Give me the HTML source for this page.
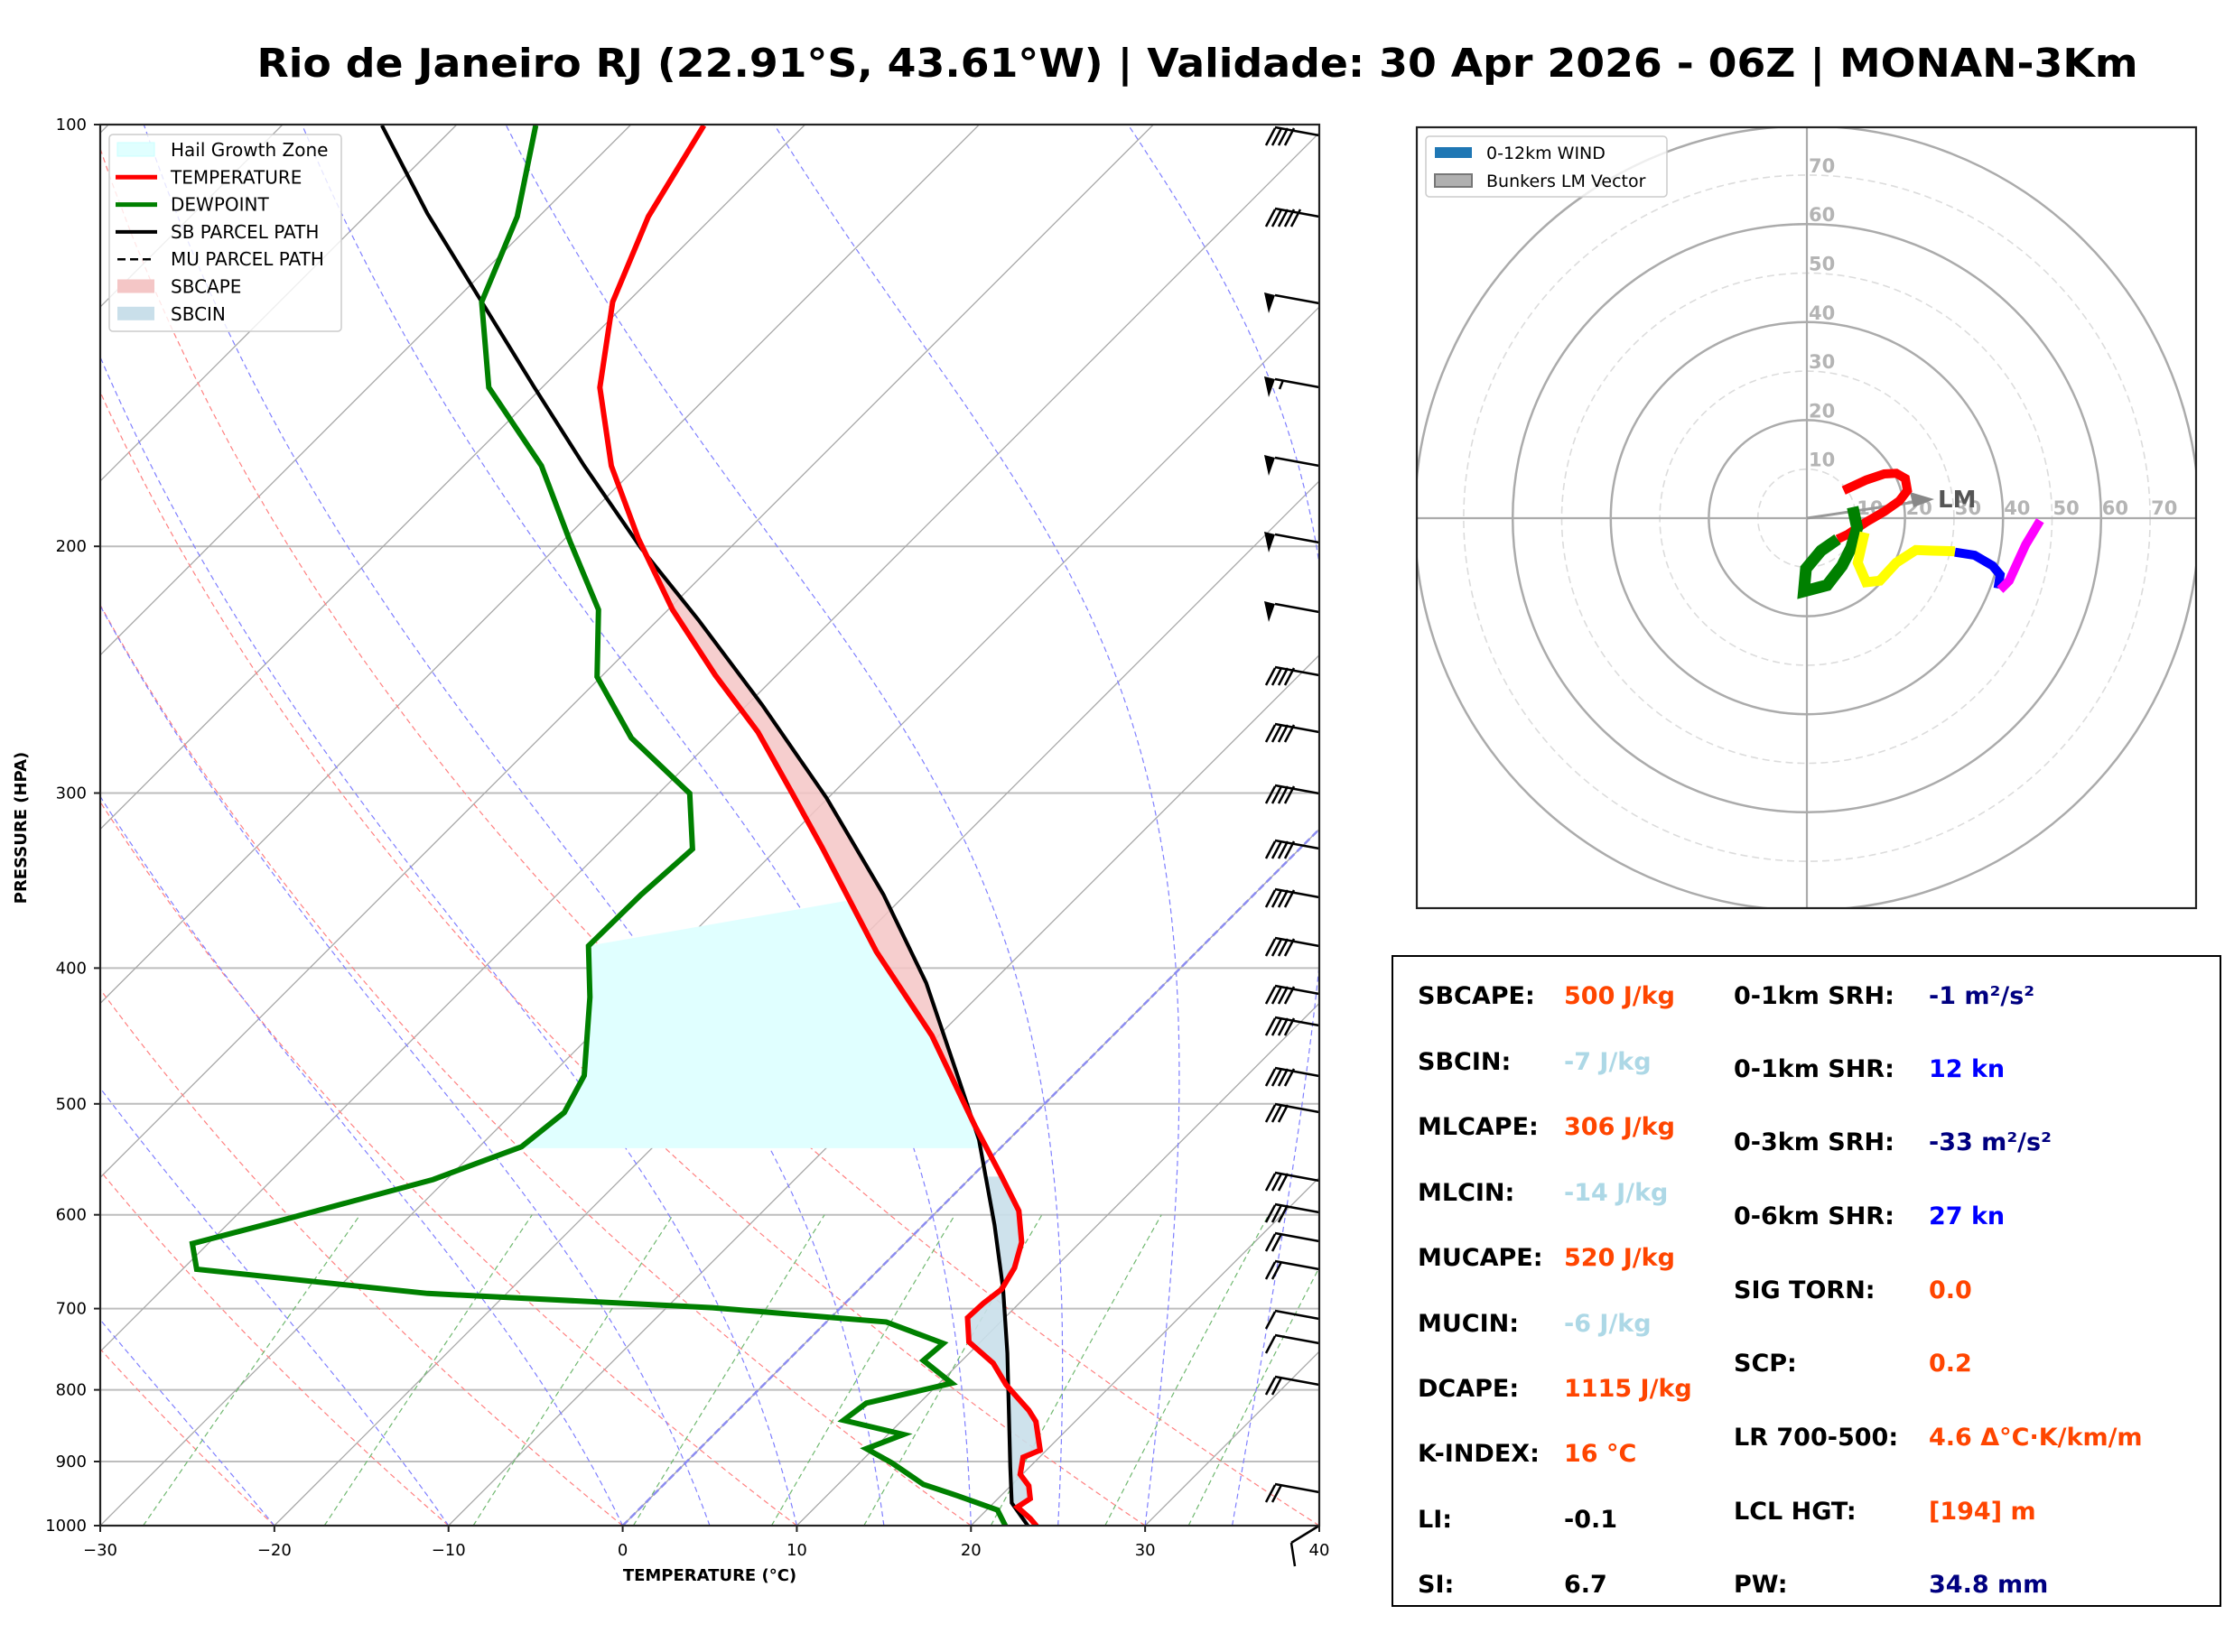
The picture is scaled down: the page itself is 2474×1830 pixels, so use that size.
<!DOCTYPE html>
<html><head><meta charset="utf-8"><style>
html,body{margin:0;padding:0;background:#fff;}
svg{display:block;font-family:"DejaVu Sans","Liberation Sans",sans-serif;}
</style></head><body>
<svg id="s" width="2474" height="1830" viewBox="0 0 2474 1830" xmlns="http://www.w3.org/2000/svg">
<defs>
<clipPath id="cp"><rect x="111" y="138" width="1350" height="1552"/></clipPath>
<clipPath id="ch"><rect x="1569" y="141" width="863" height="865"/></clipPath>
</defs>
<text x="1326" y="85" text-anchor="middle" font-size="44" font-weight="bold" textLength="2083" lengthAdjust="spacingAndGlyphs">Rio de Janeiro RJ (22.91°S, 43.61°W) | Validade: 30 Apr 2026 - 06Z | MONAN-3Km</text>
<g id="bg" clip-path="url(#cp)"></g>
<g id="fg"></g>
<g id="hod"></g>
<g id="stats"></g>
</svg>
<script>
var NS="http://www.w3.org/2000/svg";
function el(par,tag,attrs,txt){var e=document.createElementNS(NS,tag);for(var k in attrs)e.setAttribute(k,attrs[k]);if(txt!==undefined)e.textContent=txt;par.appendChild(e);return e;}
var bg=document.getElementById('bg'),fg=document.getElementById('fg'),hod=document.getElementById('hod'),st=document.getElementById('stats');
function Y(p){return 1690-1552*Math.log10(1000/p);}
function X(T,p){return 111+(T+30)*19.2857+(1690-Y(p));}
function pts(a){return a.map(function(q){return q[0].toFixed(1)+','+q[1].toFixed(1);}).join(' ');}
[200,300,400,500,600,700,800,900,1000].forEach(function(p){el(bg,'line',{x1:111,x2:1461,y1:Y(p),y2:Y(p),stroke:'#bdbdbd','stroke-width':2});});
for(var T=-160;T<=40;T+=10){el(bg,'line',{x1:X(T,1000),y1:Y(1000),x2:X(T,100),y2:Y(100),stroke:'#a8a8a8','stroke-width':1.3});}
for(var t0=-40;t0<=40;t0+=10){var th=t0+273.15,a=[];for(var p=1000;p>=100;p-=10){var Tk=th*Math.pow(p/1000,0.2857);a.push([X(Tk-273.15,p),Y(p)]);}el(bg,'polyline',{points:pts(a),fill:'none',stroke:'#ff8080','stroke-width':1.2,'stroke-dasharray':'6,4'});}
function es(T){return 6.112*Math.exp(17.67*(T-273.15)/(T-29.65));}
var mts=[-30,-20,-10,0,5,10,15,20,25,30,35,40];
mts.forEach(function(t0){var Tk=t0+273.15,a=[[X(t0,1000),Y(1000)]];for(var p=1000;p>100;p-=2){var e=es(Tk),rs=0.622*e/(p-e);var d=(287*Tk+2.5e6*rs)/(p*(1005+2.5e6*2.5e6*rs*0.622/(287*Tk*Tk)));Tk-=d*2;a.push([X(Tk-273.15,p-2),Y(p-2)]);}el(bg,'polyline',{points:pts(a),fill:'none',stroke:'#7f7fff','stroke-width':1.2,'stroke-dasharray':'6,4'});});
[0.0004,0.001,0.002,0.004,0.007,0.01,0.016,0.024,0.032].forEach(function(w){var a=[];for(var p=1000;p>=600;p-=20){var e=w*p/(0.622+w),l=Math.log(e/6.112),td=243.5*l/(17.67-l);a.push([X(td,p),Y(p)]);}el(bg,'polyline',{points:pts(a),fill:'none',stroke:'#70b870','stroke-width':1.2,'stroke-dasharray':'6,4'});});
el(bg,'line',{x1:X(0,1000),y1:Y(1000),x2:X(0,100),y2:Y(100),stroke:'#8c8cf0','stroke-width':2.5,'stroke-dasharray':'8,4'});
var k=1.578;
function sc(a){return a.map(function(q){return [q[0]*k,q[1]*k];});}
var temp=sc([[494,88],[455,152],[430,212],[421,272],[429,327],[448,378],[472,428],[502,474],[532,514],[556,557],[577,595],[615,668],[654,727],[684,790],[703,826],[715,850],[717,872],[712,890],[703,905],[690,915],[679,925],[680,942],[697,957],[706,972],[713,980],[722,990],[727,998],[730,1018],[718,1023],[716,1035],[722,1043],[723,1052],[714,1058],[723,1066],[728,1072]]);
var dew=sc([[376,88],[363,152],[338,212],[343,272],[380,327],[400,380],[420,428],[419,475],[443,518],[484,557],[486,596],[450,628],[413,664],[414,700],[410,755],[396,781],[366,805],[304,828],[200,856],[135,873],[138,891],[300,908],[500,918],[622,928],[662,943],[648,955],[668,971],[608,985],[592,997],[634,1007],[608,1017],[626,1027],[648,1042],[672,1050],[700,1060],[706,1072]]);
var parc=sc([[268,88],[300,150],[340,215],[375,272],[410,327],[450,385],[490,435],[535,495],[580,560],[620,628],[650,690],[672,755],[687,800],[698,860],[704,905],[707,950],[708,990],[709,1030],[710,1055],[722,1072]]);
function ix(a,y){for(var i=0;i<a.length-1;i++){if(y>=a[i][1]&&y<=a[i+1][1]){var f=(y-a[i][1])/((a[i+1][1]-a[i][1])||1);return a[i][0]+f*(a[i+1][0]-a[i][0]);}}return a[a.length-1][0];}
function band(A,B,y0,y1){var L=[],R=[];for(var y=y0;y<=y1;y+=2){L.push([ix(A,y),y]);R.push([ix(B,y),y]);}return L.concat(R.reverse());}
var g=bg;
var h=[[ix(temp,632*k),632*k]];for(var y=632*k;y<=806*k;y+=3)h.push([ix(temp,y),y]);h.push([ix(temp,806*k),806*k]);h.push([ix(dew,806*k),806*k]);var hd=[];for(var y=664*k;y<=806*k;y+=3)hd.push([ix(dew,y),y]);h=h.concat(hd.reverse());
el(g,'polygon',{points:pts(h),fill:'#e0ffff'});
el(g,'polygon',{points:pts(band(temp,parc,395*k,775*k)),fill:'#f4c6c6','fill-opacity':0.85});
el(g,'polygon',{points:pts(band(parc,temp,826*k,1068*k)),fill:'#c9dfea','fill-opacity':0.9});
el(g,'polyline',{points:pts(parc),fill:'none',stroke:'#000','stroke-width':4.2});
el(g,'polyline',{points:pts(temp),fill:'none',stroke:'#ff0000','stroke-width':6});
el(g,'polyline',{points:pts(dew),fill:'none',stroke:'#008000','stroke-width':6});
var barbs=[[150,'t',4],[240,'t',5],[336,'f',0],[429,'f',1],[516,'f',0],[601,'f',0],[678,'f',0],[748,'t',4],[811,'t',4],[879,'t',4],[940,'t',4],[994,'t',4],[1048,'t',4],[1101,'t',4],[1136,'t',4],[1192,'t',4],[1232,'t',3],[1308,'t',3],[1343,'t',3],[1375,'t',2],[1406,'t',2],[1461,'t',1],[1488,'t',1],[1534,'t',2],[1653,'t',2]];
barbs.forEach(function(b){var y=b[0],x0=1461,x1=1412,y1=y-9;el(fg,'line',{x1:x0,y1:y,x2:x1,y2:y1,stroke:'#000','stroke-width':2.5});
if(b[1]=='f'){el(fg,'polygon',{points:x1+','+y1+' '+(x1-12)+','+(y1-3)+' '+(x1-7)+','+(y1+20),fill:'#000'});if(b[2])el(fg,'line',{x1:x1+9,y1:y1+1,x2:x1+5,y2:y1+11,stroke:'#000','stroke-width':2.5});}
else{for(var i=0;i<b[2];i++){var xs=x1+i*7;el(fg,'line',{x1:xs,y1:y1+1,x2:xs-10,y2:y1+20,stroke:'#000','stroke-width':2.5});}}});
el(fg,'line',{x1:1461,y1:1690,x2:1430,y2:1709,stroke:'#000','stroke-width':2.5});
el(fg,'line',{x1:1430,y1:1709,x2:1434,y2:1735,stroke:'#000','stroke-width':2.5});
el(fg,'rect',{x:111,y:138,width:1350,height:1552,fill:'none',stroke:'#222','stroke-width':2.2});
for(var T=-30;T<=40;T+=10){var xx=111+(T+30)*19.2857;el(fg,'line',{x1:xx,x2:xx,y1:1690,y2:1697,stroke:'#222','stroke-width':2});el(fg,'text',{x:xx,y:1723,'text-anchor':'middle','font-size':18},(T<0?'\u2212'+(-T):''+T));}
[100,200,300,400,500,600,700,800,900,1000].forEach(function(p){var yy=Y(p);el(fg,'line',{x1:104,x2:111,y1:yy,y2:yy,stroke:'#222','stroke-width':2});el(fg,'text',{x:96,y:yy+6,'text-anchor':'end','font-size':18},''+p);});
el(fg,'text',{x:786,y:1751,'text-anchor':'middle','font-size':18,'font-weight':'bold'},'TEMPERATURE (°C)');
el(fg,'text',{x:0,y:0,'text-anchor':'middle','font-size':18,'font-weight':'bold',transform:'translate(29,917) rotate(-90)'},'PRESSURE (HPA)');
el(fg,'rect',{x:121,y:149,width:257,height:218,rx:4,fill:'#fff','fill-opacity':0.8,stroke:'#ccc','stroke-width':1.5});
var L=[['Hail Growth Zone','r','#e0ffff'],['TEMPERATURE','l','#ff0000'],['DEWPOINT','l','#008000'],['SB PARCEL PATH','l','#000'],['MU PARCEL PATH','d','#000'],['SBCAPE','r','#f4c6c6'],['SBCIN','r','#c9dfea']];
L.forEach(function(e,i){var y=166+i*30.3;if(e[1]=='r')el(fg,'rect',{x:130,y:y-8,width:41,height:15,fill:e[2],stroke:i==0?'#c8ffff':'none'});else if(e[1]=='l')el(fg,'line',{x1:128,x2:174,y1:y,y2:y,stroke:e[2],'stroke-width':i==3?4:5});else el(fg,'line',{x1:130,x2:172,y1:y,y2:y,stroke:'#000','stroke-width':2.5,'stroke-dasharray':'9,5'});el(fg,'text',{x:189,y:y+7,'font-size':20},e[0]);});
var cx=2001,cy=574,s=5.43;var hc=el(hod,'g',{'clip-path':'url(#ch)'});
[10,30,50,70].forEach(function(r){el(hc,'circle',{cx:cx,cy:cy,r:r*s,fill:'none',stroke:'#dcdcdc','stroke-width':1.6,'stroke-dasharray':'8,5'});});
[20,40,60,80].forEach(function(r){el(hc,'circle',{cx:cx,cy:cy,r:r*s,fill:'none',stroke:'#ababab','stroke-width':2.5});});
el(hc,'line',{x1:1569,x2:2432,y1:cy,y2:cy,stroke:'#ababab','stroke-width':2.2});
el(hc,'line',{x1:cx,x2:cx,y1:141,y2:1006,stroke:'#ababab','stroke-width':2.2});
for(var r=10;r<=70;r+=10){el(hc,'text',{x:cx+2,y:cy-r*s-3,'font-size':21,'font-weight':'bold',fill:'#b4b4b4'},''+r);el(hc,'text',{x:cx+r*s+1,y:cy-4,'font-size':21,'font-weight':'bold',fill:'#b4b4b4'},''+r);}
function hz(a){return a.map(function(q){return [1900+q[0]/3,480+q[1]/3];});}
el(hc,'line',{x1:cx,y1:cy,x2:2135,y2:554,stroke:'#999','stroke-width':3});
el(hc,'polygon',{points:'2142,553 2115,545 2119,562',fill:'#888'});
el(hc,'text',{x:2146,y:562,'font-size':26,'font-weight':'bold',fill:'#555'},'LM');
var segs=[['#ff0000',10,[[425,190],[500,155],[560,135],[600,133],[630,150],[637,190],[610,225],[560,260],[500,295],[440,335],[405,352]]],
['#008000',13,[[405,352],[350,390],[300,450],[293,525],[370,505],[420,440],[450,380],[470,315],[455,245]]],
['#ffff00',11,[[495,330],[472,430],[500,495],[545,490],[600,430],[665,388],[720,390],[795,392]]],
['#0000ff',10,[[795,395],[860,405],[920,440],[945,470],[938,515]]],
['#ff00ff',10,[[945,520],[975,490],[1030,370],[1078,290]]]];
segs.forEach(function(sg){el(hc,'polyline',{points:pts(hz(sg[2])),fill:'none',stroke:sg[0],'stroke-width':sg[1],'stroke-linejoin':'miter'});});
el(hod,'rect',{x:1569,y:141,width:863,height:865,fill:'none',stroke:'#222','stroke-width':2.2});
el(hod,'rect',{x:1579,y:151,width:267,height:67,rx:4,fill:'#fff','fill-opacity':0.8,stroke:'#ccc','stroke-width':1.5});
el(hod,'rect',{x:1589,y:163,width:41,height:12,fill:'#1f77b4'});
el(hod,'rect',{x:1589,y:193,width:41,height:14,fill:'#b0b0b0',stroke:'#777','stroke-width':2});
el(hod,'text',{x:1646,y:176,'font-size':19},'0-12km WIND');
el(hod,'text',{x:1646,y:207,'font-size':19},'Bunkers LM Vector');
el(st,'rect',{x:1542,y:1059,width:917,height:720,fill:'none',stroke:'#000','stroke-width':2});
var lb=[1112,1185,1257,1330,1402,1475,1547,1619,1692,1764];
var left=[['SBCAPE:','500 J/kg','#ff4500'],['SBCIN:','-7 J/kg','#add8e6'],['MLCAPE:','306 J/kg','#ff4500'],['MLCIN:','-14 J/kg','#add8e6'],['MUCAPE:','520 J/kg','#ff4500'],['MUCIN:','-6 J/kg','#add8e6'],['DCAPE:','1115 J/kg','#ff4500'],['K-INDEX:','16 °C','#ff4500'],['LI:','-0.1','#000'],['SI:','6.7','#000']];
left.forEach(function(e,i){el(st,'text',{x:1570,y:lb[i],'font-size':27,'font-weight':'bold'},e[0]);el(st,'text',{x:1732,y:lb[i],'font-size':27,'font-weight':'bold',fill:e[2]},e[1]);});
var rb=[1112,1193,1274,1356,1438,1519,1601,1683,1764];
var right=[['0-1km SRH:','-1 m²/s²','#000080'],['0-1km SHR:','12 kn','#0000ff'],['0-3km SRH:','-33 m²/s²','#000080'],['0-6km SHR:','27 kn','#0000ff'],['SIG TORN:','0.0','#ff4500'],['SCP:','0.2','#ff4500'],['LR 700-500:','4.6 Δ°C·K/km/m','#ff4500'],['LCL HGT:','[194] m','#ff4500'],['PW:','34.8 mm','#000080']];
right.forEach(function(e,i){el(st,'text',{x:1920,y:rb[i],'font-size':27,'font-weight':'bold'},e[0]);el(st,'text',{x:2136,y:rb[i],'font-size':27,'font-weight':'bold',fill:e[2]},e[1]);});
</script>
</body></html>
